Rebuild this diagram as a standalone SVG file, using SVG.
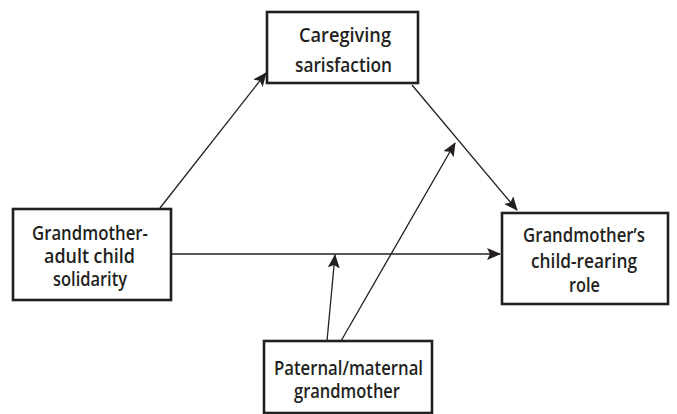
<svg xmlns="http://www.w3.org/2000/svg" width="677" height="414" viewBox="0 0 677 414">
<style>
.box{fill:#fff;stroke:#231f20;stroke-width:2.6}
.t{font-family:"Open Sans","Liberation Sans",sans-serif;font-weight:600;font-size:20px;fill:#231f20;text-anchor:middle}
.c{stroke:#231f20;stroke-width:1.3;fill:none;marker-end:url(#ah)}
</style>
<defs>
<marker id="ah" markerUnits="userSpaceOnUse" markerWidth="14" markerHeight="12" viewBox="0 0 14 12" refX="13" refY="6" orient="auto">
<path d="M0,0 L14,6 L0,12 L3,6 Z" fill="#231f20"/>
</marker>
</defs>
<rect width="677" height="414" fill="#fff"/>
<g id="connectors">
<line class="c" x1="160" y1="208" x2="266" y2="73"/>
<line class="c" x1="412" y1="85" x2="517" y2="210"/>
<line class="c" x1="171" y1="254" x2="500" y2="254"/>
<line class="c" x1="327" y1="341" x2="335" y2="255"/>
<line class="c" x1="341" y1="341" x2="455" y2="143"/>
</g>
<g id="caregiving">
<rect class="box" x="267" y="12" width="151" height="71"/>
<text class="t" x="345" y="42" textLength="92" lengthAdjust="spacingAndGlyphs">Caregiving</text>
<text class="t" x="343.5" y="72" textLength="97" lengthAdjust="spacingAndGlyphs">sarisfaction</text>
</g>
<g id="solidarity">
<rect class="box" x="13" y="209" width="158" height="91"/>
<text class="t" x="90" y="240" textLength="116" lengthAdjust="spacingAndGlyphs">Grandmother-</text>
<text class="t" x="89.5" y="263" textLength="91" lengthAdjust="spacingAndGlyphs">adult child</text>
<text class="t" x="90" y="286" textLength="74" lengthAdjust="spacingAndGlyphs">solidarity</text>
</g>
<g id="role">
<rect class="box" x="502" y="213" width="166" height="91"/>
<text class="t" x="584" y="242" textLength="122" lengthAdjust="spacingAndGlyphs">Grandmother’s</text>
<text class="t" x="584" y="268" textLength="106" lengthAdjust="spacingAndGlyphs">child-rearing</text>
<text class="t" x="584.5" y="292" textLength="31" lengthAdjust="spacingAndGlyphs">role</text>
</g>
<g id="grandmother">
<rect class="box" x="264" y="341" width="168" height="72"/>
<text class="t" x="348.5" y="375" textLength="149" lengthAdjust="spacingAndGlyphs">Paternal/maternal</text>
<text class="t" x="347" y="398" textLength="106" lengthAdjust="spacingAndGlyphs">grandmother</text>
</g>
</svg>
